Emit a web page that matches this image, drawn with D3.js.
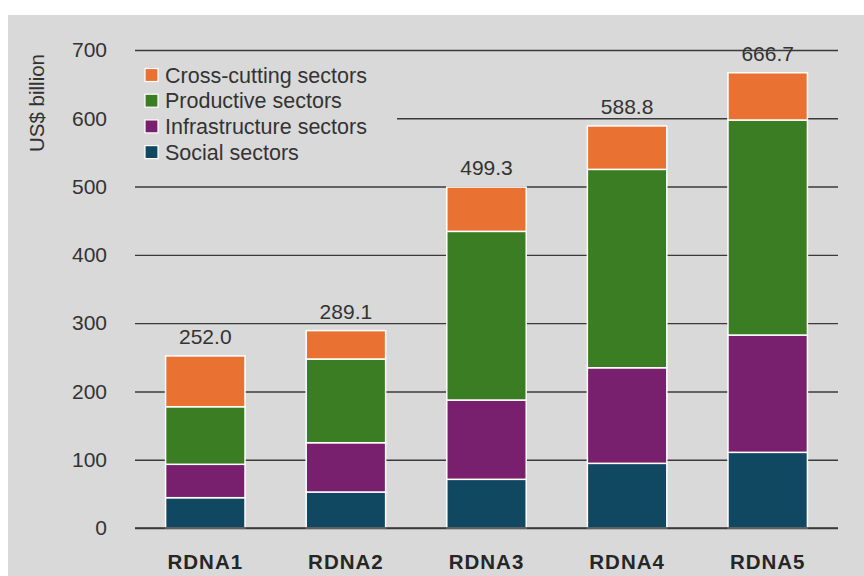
<!DOCTYPE html>
<html>
<head>
<meta charset="utf-8">
<script src="https://cdn.jsdelivr.net/npm/d3@7"></script>
<style>
  html, body { margin: 0; padding: 0; background: #ffffff; }
  svg { display: block; }
  text { font-family: "Liberation Sans", Arial, sans-serif; }
</style>
</head>
<body>
<script>
// Funding by sector across replenishment rounds (US$ billion)
const rounds = ["RDNA1", "RDNA2", "RDNA3", "RDNA4", "RDNA5"];
const social = [44.4, 52.7, 71.3, 94.7, 110.8];
const infrastructure = [48.9, 72.2, 116.1, 140.0, 171.8];
const productive = [84.3, 122.6, 247.0, 290.5, 314.9];
const crossCutting = [74.4, 41.6, 64.9, 63.6, 69.2];
const yTicks = [0, 100, 200, 300, 400, 500, 600, 700];

const seriesNames = ["Social sectors", "Infrastructure sectors", "Productive sectors", "Cross-cutting sectors"];
const seriesColors = ["#104862", "#78206e", "#3a7d22", "#e97132"];
const seriesValues = [social, infrastructure, productive, crossCutting];

const W = 864, H = 576;
const margin = { left: 135, right: 26, top: 50, bottom: 48 };

const rows = rounds.map((r, i) => {
  const o = { round: r };
  seriesNames.forEach((s, k) => { o[s] = seriesValues[k][i]; });
  return o;
});
const totals = rounds.map((r, i) => d3.sum(seriesValues, v => v[i]));

const svg = d3.select("body").append("svg").attr("width", W).attr("height", H);

// panel background
svg.append("rect").attr("x", 8).attr("y", 15).attr("width", W - 8).attr("height", H - 15)
  .attr("fill", "#d9d9d9");

const x = d3.scaleBand().domain(rounds)
  .range([margin.left, W - margin.right]).paddingInner(0.435).paddingOuter(0.2175);
const y = d3.scaleLinear().domain([0, 700]).range([H - margin.bottom, margin.top]);

// horizontal gridlines
const yAxis = d3.axisLeft(y).tickValues(yTicks).tickSize(-(W - margin.right - margin.left)).tickPadding(28)
  .tickFormat(d3.format("d"));
const gy = svg.append("g").attr("transform", `translate(${margin.left},0)`).call(yAxis);
gy.select(".domain").remove();
gy.selectAll(".tick line").attr("stroke", "#3a3a3a").attr("stroke-width", 1.4);
gy.selectAll(".tick text").attr("fill", "#333333").style("font-size", "21px");

// legend backdrop hides the gridline behind it
const legendX = 145, legendY = 75, legendStep = 25.7;
svg.append("rect").attr("x", margin.left).attr("y", 60).attr("width", 262).attr("height", 106)
  .attr("fill", "#d9d9d9");

// stacked bars
const stack = d3.stack().keys(seriesNames)(rows);
svg.append("g").selectAll("g").data(stack).join("g")
  .attr("fill", (d, i) => seriesColors[i])
  .selectAll("rect").data(d => d).join("rect")
  .attr("x", d => x(d.data.round))
  .attr("y", d => y(d[1]))
  .attr("width", x.bandwidth())
  .attr("height", d => y(d[0]) - y(d[1]))
  .attr("stroke", "#ffffff").attr("stroke-width", 1.5);

// zero line on top of bars
svg.append("line").attr("x1", margin.left).attr("x2", W - margin.right)
  .attr("y1", y(0)).attr("y2", y(0)).attr("stroke", "#3a3a3a").attr("stroke-width", 1.4);

// totals above bars
svg.append("g").selectAll("text").data(rounds).join("text")
  .attr("x", d => x(d) + x.bandwidth() / 2)
  .attr("y", (d, i) => y(totals[i]) - 12)
  .attr("text-anchor", "middle")
  .attr("fill", "#333333").style("font-size", "21px")
  .text((d, i) => totals[i].toFixed(1));

// category labels
svg.append("g").selectAll("text").data(rounds).join("text")
  .attr("x", d => x(d) + x.bandwidth() / 2)
  .attr("y", H - 7)
  .attr("text-anchor", "middle")
  .attr("fill", "#262626").style("font-size", "20.5px").style("font-weight", "bold")
  .style("letter-spacing", "1px")
  .text(d => d);

// y-axis title
svg.append("text")
  .attr("transform", `translate(44,${(53 + 153) / 2}) rotate(-90)`)
  .attr("text-anchor", "middle").attr("fill", "#333333").style("font-size", "20.5px")
  .text("US$ billion");

// legend, top series first
const legendOrder = [3, 2, 1, 0];
const lg = svg.append("g").selectAll("g").data(legendOrder).join("g")
  .attr("transform", (d, i) => `translate(${legendX},${legendY + i * legendStep})`);
lg.append("rect").attr("x", 0).attr("y", -6.5).attr("width", 13).attr("height", 13)
  .attr("fill", d => seriesColors[d]).attr("stroke", "#ffffff").attr("stroke-width", 1.2);
lg.append("text").attr("x", 20).attr("y", 0).attr("dy", "0.36em")
  .attr("fill", "#333333").style("font-size", "21.5px")
  .text(d => seriesNames[d]);
</script>
</body>
</html>
